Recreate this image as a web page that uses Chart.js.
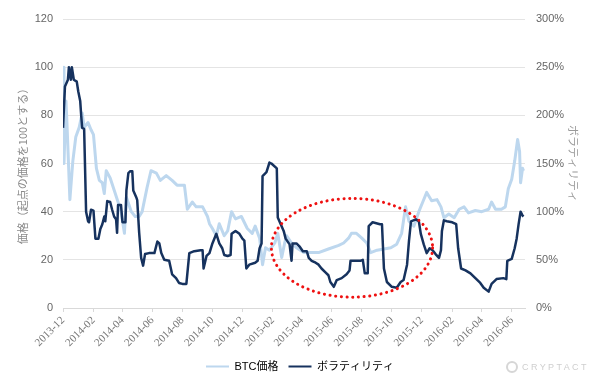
<!DOCTYPE html>
<html>
<head>
<meta charset="utf-8">
<script src="https://cdn.jsdelivr.net/npm/chart.js@4.4.1/dist/chart.umd.min.js"></script>
<style>
  body { margin: 0; background: #fff; }
  #wrap { position: relative; width: 600px; height: 382px; }
  #logo { position: absolute; left: 506px; top: 361px; color: #cfcfcf; font: 9px "Liberation Sans", Arial, sans-serif; letter-spacing: 2.4px; display: flex; align-items: center; }
  #logo span.mark { width: 8px; height: 8px; border: 2px solid #d6d6d6; border-radius: 50%; margin-right: 4px; }
</style>
</head>
<body>
<div id="wrap">
  <canvas id="chart"></canvas>
  <div id="logo"><span class="mark"></span>CRYPTACT</div>
</div>
<script>
const startDate = '2013-12-01';
const endDate = '2016-06-28';
const tickLabels = ['2013-12', '2014-02', '2014-04', '2014-06', '2014-08', '2014-10', '2014-12', '2015-02',
    '2015-04', '2015-06', '2015-08', '2015-10', '2015-12', '2016-02', '2016-04', '2016-06'];

// BTC価格 (起点=100)
const btcDates = ['2013-12-01', '2013-12-03', '2013-12-07', '2013-12-09', '2013-12-15', '2013-12-21', '2013-12-27',
    '2014-01-03', '2014-01-09', '2014-01-13', '2014-01-21', '2014-01-27', '2014-02-01', '2014-02-07', '2014-02-13',
    '2014-02-19', '2014-02-23', '2014-02-27', '2014-03-07', '2014-03-15', '2014-03-23', '2014-03-29', '2014-04-05',
    '2014-04-09', '2014-04-19', '2014-04-27', '2014-05-05', '2014-05-11', '2014-05-21', '2014-05-29', '2014-06-09',
    '2014-06-17', '2014-06-29', '2014-07-11', '2014-07-21', '2014-08-05', '2014-08-11', '2014-08-21', '2014-08-29',
    '2014-09-11', '2014-09-21', '2014-09-25', '2014-10-01', '2014-10-09', '2014-10-15', '2014-10-25', '2014-11-01',
    '2014-11-09', '2014-11-17', '2014-11-29', '2014-12-11', '2014-12-21', '2014-12-27', '2015-01-05', '2015-01-11',
    '2015-01-17', '2015-01-25', '2015-02-05', '2015-02-11', '2015-02-19', '2015-02-25', '2015-03-01', '2015-03-11',
    '2015-03-21', '2015-04-05', '2015-04-19', '2015-05-05', '2015-05-25', '2015-06-15', '2015-06-25', '2015-07-05',
    '2015-07-11', '2015-07-21', '2015-08-01', '2015-08-11', '2015-08-19', '2015-09-01', '2015-09-15', '2015-09-29',
    '2015-10-11', '2015-10-21', '2015-10-29', '2015-11-05', '2015-11-15', '2015-11-25', '2015-12-03', '2015-12-11',
    '2015-12-21', '2016-01-01', '2016-01-09', '2016-01-15', '2016-01-25', '2016-02-05', '2016-02-15', '2016-02-25',
    '2016-03-05', '2016-03-19', '2016-04-01', '2016-04-15', '2016-04-21', '2016-04-29', '2016-05-11', '2016-05-19',
    '2016-05-25', '2016-06-01', '2016-06-07', '2016-06-13', '2016-06-17', '2016-06-19', '2016-06-23', '2016-06-25'];
const btcValues = [100, 60, 86, 77, 45, 61, 71,
    75, 81, 75, 77, 74, 72, 58, 53,
    52, 47.5, 57, 54, 49, 44, 40, 31,
    46, 40, 38, 38, 40, 50, 57, 56,
    53, 55, 53, 51, 51, 41, 44, 42,
    42, 38, 35, 33, 30, 35, 30, 32,
    40, 37, 38, 33, 31, 34, 29, 18,
    25, 24, 27, 31, 21, 27, 30, 27,
    25, 23, 23, 23, 24.5, 26, 27, 29,
    31, 31, 29, 27, 23, 24, 24.5, 25,
    26.5, 31, 42, 36, 34, 40, 44, 48,
    44.5, 45, 42, 37.5, 39, 37.5, 41, 42,
    39.5, 40.5, 40, 41, 44, 41, 41, 42,
    49.5, 53.5, 61, 70, 65, 52, 58, 57];

// ボラティリティ (%)
const volDates = ['2013-12-01', '2013-12-05', '2013-12-11', '2013-12-13', '2013-12-17', '2013-12-19', '2013-12-23',
    '2013-12-29', '2014-01-01', '2014-01-05', '2014-01-07', '2014-01-09', '2014-01-13', '2014-01-17', '2014-01-21',
    '2014-01-23', '2014-01-27', '2014-02-01', '2014-02-05', '2014-02-11', '2014-02-15', '2014-02-19', '2014-02-23',
    '2014-02-25', '2014-03-01', '2014-03-07', '2014-03-11', '2014-03-15', '2014-03-19', '2014-03-21', '2014-03-23',
    '2014-03-29', '2014-04-01', '2014-04-07', '2014-04-09', '2014-04-13', '2014-04-17', '2014-04-21', '2014-04-23',
    '2014-04-29', '2014-05-01', '2014-05-05', '2014-05-09', '2014-05-13', '2014-05-17', '2014-05-25', '2014-06-05',
    '2014-06-11', '2014-06-15', '2014-06-19', '2014-06-25', '2014-07-05', '2014-07-11', '2014-07-19', '2014-07-25',
    '2014-08-01', '2014-08-09', '2014-08-15', '2014-08-25', '2014-09-07', '2014-09-11', '2014-09-13', '2014-09-19',
    '2014-09-25', '2014-10-01', '2014-10-09', '2014-10-15', '2014-10-21', '2014-10-25', '2014-11-01', '2014-11-07',
    '2014-11-09', '2014-11-17', '2014-11-25', '2014-12-01', '2014-12-05', '2014-12-09', '2014-12-15', '2014-12-27',
    '2015-01-01', '2015-01-05', '2015-01-09', '2015-01-11', '2015-01-19', '2015-01-25', '2015-01-29', '2015-02-09',
    '2015-02-11', '2015-02-17', '2015-02-23', '2015-02-27', '2015-03-07', '2015-03-11', '2015-03-13', '2015-03-21',
    '2015-03-27', '2015-04-03', '2015-04-11', '2015-04-15', '2015-04-21', '2015-04-29', '2015-05-05', '2015-05-11',
    '2015-05-19', '2015-05-25', '2015-05-29', '2015-06-05', '2015-06-11', '2015-06-21', '2015-07-01', '2015-07-07',
    '2015-07-09', '2015-07-19', '2015-07-29', '2015-08-03', '2015-08-07', '2015-08-13', '2015-08-15', '2015-08-23',
    '2015-09-07', '2015-09-11', '2015-09-15', '2015-09-21', '2015-10-01', '2015-10-11', '2015-10-19', '2015-10-25',
    '2015-11-01', '2015-11-05', '2015-11-09', '2015-11-19', '2015-11-25', '2015-11-29', '2015-12-05', '2015-12-11',
    '2015-12-17', '2015-12-23', '2015-12-29', '2016-01-05', '2016-01-09', '2016-01-11', '2016-01-15', '2016-01-21',
    '2016-02-01', '2016-02-09', '2016-02-13', '2016-02-19', '2016-02-28', '2016-03-09', '2016-03-19', '2016-03-29',
    '2016-04-05', '2016-04-15', '2016-04-21', '2016-05-01', '2016-05-15', '2016-05-21', '2016-05-23', '2016-06-01',
    '2016-06-07', '2016-06-11', '2016-06-15', '2016-06-19', '2016-06-23', '2016-06-25'];
const volValues = [187, 230, 237, 250, 237, 250, 237,
    235, 225, 215, 200, 187, 186, 100, 90,
    89, 102, 101, 72, 72, 82, 87, 95,
    90, 111, 110, 102, 95, 92, 78, 107,
    107, 89, 89, 122, 140, 142, 142, 122,
    115, 112, 78, 52, 44, 56, 57, 57,
    69, 67, 57, 50, 49, 35, 31, 26,
    25, 25, 57, 59, 60, 60, 41, 54,
    57, 67, 77, 67, 62, 55, 54, 55,
    77, 80, 77, 72, 70, 41, 45, 47,
    49, 62, 67, 137, 141, 151, 150, 145,
    94, 87, 80, 72, 66, 49, 67, 67,
    64, 59, 59, 52, 49, 47, 45, 41,
    37, 34, 27, 22, 29, 31, 35, 39,
    49, 49, 49, 50, 36, 36, 85, 89,
    87, 87, 41, 27, 22, 21, 27, 29,
    45, 70, 90, 92, 90, 77, 66, 57,
    62, 60, 56, 52, 60, 80, 91, 90,
    89, 87, 62, 41, 39, 36, 31, 26,
    21, 17, 25, 30, 31, 30, 49, 51,
    62, 72, 87, 100, 96, 95];

// 赤い点線の楕円 (データ座標)
const circleFrom = '2015-01-29';
const circleTo = '2015-12-23';
const circleLow = 4.5;
const circleHigh = 45.5;

const dayOf = s => (Date.parse(s) - Date.parse(startDate)) / 864e5;
const toPoints = (dates, values) => dates.map((d, i) => ({ x: dayOf(d), y: values[i] }));

const sansFont = '"Liberation Sans", Arial, "Noto Sans CJK JP", sans-serif';

const circlePlugin = {
    id: 'circle',
    afterDatasetsDraw(chart) {
        const { ctx, scales: { x, y } } = chart;
        const x1 = x.getPixelForValue(dayOf(circleFrom));
        const x2 = x.getPixelForValue(dayOf(circleTo));
        const y1 = y.getPixelForValue(circleHigh);
        const y2 = y.getPixelForValue(circleLow);
        ctx.save();
        ctx.beginPath();
        ctx.ellipse((x1 + x2) / 2, (y1 + y2) / 2, (x2 - x1) / 2, (y2 - y1) / 2, 0, 0, Math.PI * 2);
        ctx.strokeStyle = '#ee1111';
        ctx.lineWidth = 3;
        ctx.lineCap = 'round';
        ctx.setLineDash([0.1, 5.6]);
        ctx.stroke();
        ctx.restore();
    }
};

new Chart(document.getElementById('chart'), {
    type: 'line',
    data: {
        datasets: [{
            label: 'BTC価格',
            data: toPoints(btcDates, btcValues),
            yAxisID: 'y',
            borderColor: '#bdd7ee',
            backgroundColor: '#bdd7ee',
            borderWidth: 3,
            order: 1
        }, {
            label: 'ボラティリティ',
            data: toPoints(volDates, volValues),
            yAxisID: 'y1',
            borderColor: '#16325e',
            backgroundColor: '#16325e',
            borderWidth: 2.5,
            order: 0
        }]
    },
    options: {
        responsive: true,
        maintainAspectRatio: false,
        animation: false,
        parsing: false,
        elements: {
            point: { radius: 0 },
            line: { tension: 0, borderJoinStyle: 'round' }
        },
        layout: { padding: { top: 19, bottom: 0, left: 0, right: 0 } },
        scales: {
            x: {
                type: 'linear',
                min: 0,
                max: dayOf(endDate),
                afterBuildTicks: scale => {
                    scale.ticks = tickLabels.map(l => ({ value: dayOf(l + '-01') }));
                },
                afterFit: scale => { scale.height = 43; },
                grid: { drawOnChartArea: false, drawTicks: true, tickLength: 4, color: '#d9d9d9' },
                border: { display: true, color: '#d9d9d9' },
                ticks: {
                    autoSkip: false,
                    maxRotation: 45,
                    minRotation: 45,
                    padding: 2,
                    color: '#777',
                    font: { family: '"Liberation Serif", "Times New Roman", serif', size: 11 },
                    callback: (v, i) => tickLabels[i]
                }
            },
            y: {
                position: 'left',
                min: 0,
                max: 120,
                afterFit: scale => { scale.width = 63; },
                grid: { color: '#e4e4e4', drawTicks: false },
                border: { display: false },
                ticks: {
                    stepSize: 20,
                    padding: 10,
                    color: '#666',
                    font: { family: sansFont, size: 11 }
                },
                title: {
                    display: true,
                    text: '価格（起点の価格を100とする）',
                    color: '#8a8a8a',
                    padding: { top: 16, bottom: 0 },
                    font: { family: '"Noto Sans CJK JP", sans-serif', size: 11 }
                }
            },
            y1: {
                position: 'right',
                min: 0,
                max: 300,
                afterFit: scale => { scale.width = 75; },
                grid: { drawOnChartArea: false, drawTicks: false },
                border: { display: false },
                ticks: {
                    stepSize: 50,
                    padding: 11,
                    color: '#666',
                    font: { family: sansFont, size: 11 },
                    callback: v => v + '%'
                },
                title: {
                    display: true,
                    text: 'ボラティリティ',
                    color: '#9a9a9a',
                    padding: { top: 20, bottom: 0 },
                    font: { family: '"Noto Sans CJK JP", sans-serif', size: 11 }
                }
            }
        },
        plugins: {
            tooltip: { enabled: false },
            legend: {
                position: 'bottom',
                labels: {
                    boxWidth: 23,
                    boxHeight: 2,
                    padding: 10,
                    color: '#555',
                    font: { family: sansFont, size: 11 },
                    generateLabels: chart => chart.data.datasets.map((ds, i) => ({
                        text: ds.label,
                        fillStyle: ds.borderColor,
                        strokeStyle: ds.borderColor,
                        lineWidth: 0,
                        hidden: false,
                        datasetIndex: i
                    }))
                }
            }
        }
    },
    plugins: [circlePlugin]
});
</script>
</body>
</html>
